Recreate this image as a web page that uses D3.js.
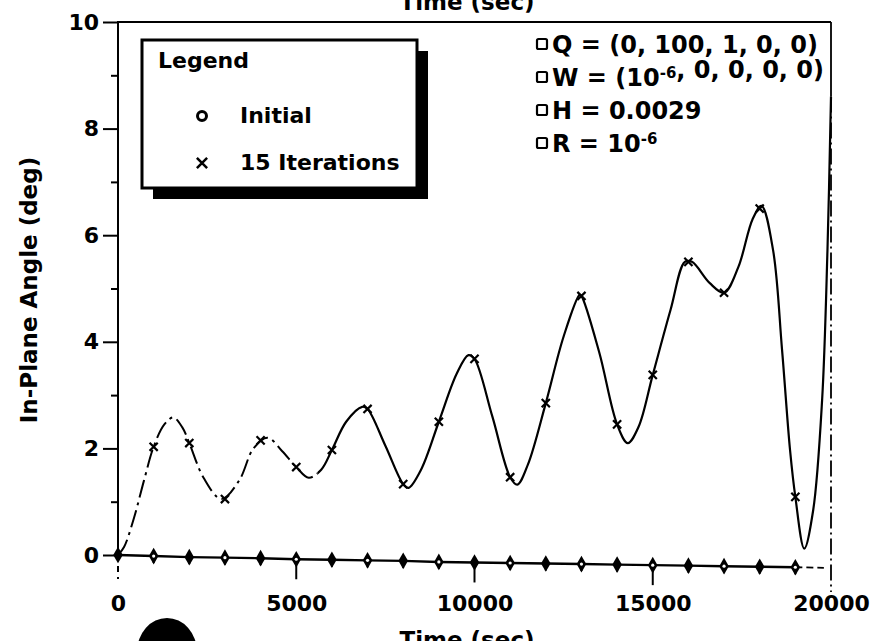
<!DOCTYPE html>
<html>
<head>
<meta charset="utf-8">
<script src="https://cdn.jsdelivr.net/npm/d3@7"></script>
<style>
  body { margin: 0; background: #fff; }
  svg { display: block; }
  text { font-family: "DejaVu Sans", sans-serif; fill: #000; }
</style>
</head>
<body>
<div id="chart"></div>
<script>
// "15 Iterations" curve (time in sec, angle in deg)
const iterTimes = [0, 170, 450, 730, 1000, 1300, 1550, 1800, 2000, 2400, 2900, 3400, 3800, 4200, 4600,
  5000, 5350, 5700, 6000, 6400, 6850, 7000, 7500, 8000, 8150, 8500, 9000, 9500, 9830, 10000,
  10500, 11000, 11200, 11500, 12000, 12500, 12950, 13000, 13500, 14000, 14300, 14600, 15000, 15500,
  15900, 16100, 16600, 17000, 17400, 17800, 18050, 18375, 18627, 18851, 19000, 19250, 19500, 19750, 19900, 20000];
const iterAngles = [0, 0.15, 0.7, 1.4, 2.03, 2.45, 2.58, 2.4, 2.1, 1.45, 1.05, 1.4, 2.0, 2.2, 1.95,
  1.65, 1.45, 1.6, 1.97, 2.5, 2.78, 2.74, 2.05, 1.33, 1.26, 1.6, 2.5, 3.4, 3.75, 3.68,
  2.6, 1.46, 1.32, 1.7, 2.85, 4.1, 4.88, 4.86, 3.8, 2.45, 2.1, 2.4, 3.38, 4.6,
  5.5, 5.5, 5.1, 4.92, 5.4, 6.3, 6.55, 5.72, 3.85, 1.97, 1.09, 0.12, 0.84, 2.9, 5.7, 8.6];

// x markers on the iterated curve
const markTimes = [1000, 2000, 3000, 4000, 5000, 6000, 7000, 8000, 9000, 10000,
  11000, 12000, 13000, 14000, 15000, 16000, 17000, 18000, 19000];
const markAngles = [2.03, 2.1, 1.05, 2.15, 1.65, 1.97, 2.74, 1.33, 2.5, 3.68,
  1.46, 2.85, 4.86, 2.45, 3.38, 5.5, 4.92, 6.5, 1.09];

// "Initial" series
const initTimes = [0, 1000, 2000, 3000, 4000, 5000, 6000, 7000, 8000, 9000,
  10000, 11000, 12000, 13000, 14000, 15000, 16000, 17000, 18000, 19000];
const initAngles = [0, -0.02, -0.04, -0.05, -0.06, -0.08, -0.09, -0.1, -0.11, -0.13,
  -0.14, -0.15, -0.16, -0.17, -0.18, -0.19, -0.2, -0.21, -0.22, -0.23];
const initTailTimes = [19000, 19800];
const initTailAngles = [-0.23, -0.24];

const yTicks = [0, 2, 4, 6, 8, 10];
const yMinor = [1, 3, 5, 7, 9];
const xTicks = [0, 5000, 10000, 15000, 20000];
const legendLabels = ['Initial', '15 Iterations'];
const notes = ['Q = (0, 100, 1, 0, 0)', 'W = (10^{-6}, 0, 0, 0, 0)', 'H = 0.0029', 'R = 10^{-6}'];
const xTitle = 'Time (sec)';
const yTitle = 'In-Plane Angle (deg)';

const width = 873, height = 641;
const x = d3.scaleLinear().domain([0, 20000]).range([118, 831]);
const y = d3.scaleLinear().domain([0, 10]).range([555, 22]);

const svg = d3.select('#chart').append('svg')
    .attr('width', width)
    .attr('height', height);

// frame
const frame = svg.append('g').attr('stroke', '#000').attr('fill', 'none');
frame.append('line')
    .attr('x1', x(0) - 1).attr('x2', x(20000)).attr('y1', y(10)).attr('y2', y(10))
    .attr('stroke-width', 2.2);
frame.append('line')
    .attr('x1', x(0)).attr('x2', x(0)).attr('y1', y(10)).attr('y2', y(0))
    .attr('stroke-width', 2);
frame.append('line')
    .attr('x1', x(0)).attr('x2', x(0)).attr('y1', y(0)).attr('y2', y(0) + 24)
    .attr('stroke-width', 2).attr('stroke-dasharray', '6,5');
frame.append('line')
    .attr('x1', x(20000)).attr('x2', x(20000)).attr('y1', y(10)).attr('y2', y(8.6))
    .attr('stroke-width', 1.8);
frame.append('line')
    .attr('x1', x(20000)).attr('x2', x(20000)).attr('y1', y(8.6)).attr('y2', y(0) + 37)
    .attr('stroke-width', 1.8).attr('stroke-dasharray', '16,4,2,4');

// axes
const styleAxis = g => {
  g.select('.domain').remove();
  g.selectAll('line').attr('stroke', '#000').attr('stroke-width', 2);
  g.selectAll('text')
      .style('font-size', '22px')
      .style('font-weight', 'bold')
      .attr('fill', '#000');
};
svg.append('g')
    .attr('transform', `translate(${x(0)},0)`)
    .call(d3.axisLeft(y).tickValues(yTicks).tickSize(15).tickPadding(4))
    .call(styleAxis);
svg.append('g')
    .attr('transform', `translate(${x(0)},0)`)
    .call(d3.axisLeft(y).tickValues(yMinor).tickSize(7).tickFormat(''))
    .call(styleAxis);
svg.append('g')
    .attr('transform', `translate(0,${y(0)})`)
    .call(d3.axisBottom(x).tickValues(xTicks).tickSize(0).tickPadding(40).tickFormat(d => d))
    .call(styleAxis);

// tick stems hanging under the initial line
svg.append('g')
    .attr('stroke', '#000').attr('stroke-width', 2)
  .selectAll('line')
  .data(initTimes.map((t, i) => [t, initAngles[i]]).filter(d => d[0] > 0))
  .join('line')
    .attr('x1', d => x(d[0])).attr('x2', d => x(d[0]))
    .attr('y1', d => y(d[1]))
    .attr('y2', d => y(d[1]) + (d[0] % 5000 === 0 ? 20 : 7));

// iterated curve: faded dash-dot print on the early part, solid after
const line = d3.line().x(d => x(d[0])).y(d => y(d[1])).curve(d3.curveCatmullRom.alpha(0.5));
const iterData = iterTimes.map((t, i) => [t, iterAngles[i]]);
const defs = svg.append('defs');
defs.append('clipPath').attr('id', 'clipEarly').append('rect')
    .attr('x', 0).attr('y', 0).attr('width', x(5600)).attr('height', height);
defs.append('clipPath').attr('id', 'clipLate').append('rect')
    .attr('x', x(5600)).attr('y', 0).attr('width', width - x(5600)).attr('height', height);
svg.append('path')
    .datum(iterData)
    .attr('clip-path', 'url(#clipEarly)')
    .attr('fill', 'none').attr('stroke', '#000').attr('stroke-width', 2)
    .attr('stroke-dasharray', '18,5,3,5')
    .attr('d', line);
svg.append('path')
    .datum(iterData)
    .attr('clip-path', 'url(#clipLate)')
    .attr('fill', 'none').attr('stroke', '#000').attr('stroke-width', 2.2)
    .attr('d', line);

svg.append('g')
    .attr('fill', 'none').attr('stroke', '#000').attr('stroke-width', 2.2)
  .selectAll('path')
  .data(markTimes.map((t, i) => [t, markAngles[i]]))
  .join('path')
    .attr('transform', d => `translate(${x(d[0])},${y(d[1])})`)
    .attr('d', d3.symbol(d3.symbolX, 45));

// initial series
const initLine = d3.line().x(d => x(d[0])).y(d => y(d[1]));
svg.append('path')
    .datum(initTimes.map((t, i) => [t, initAngles[i]]))
    .attr('fill', 'none').attr('stroke', '#000').attr('stroke-width', 2.4)
    .attr('d', initLine);
svg.append('path')
    .datum(initTailTimes.map((t, i) => [t, initTailAngles[i]]))
    .attr('fill', 'none').attr('stroke', '#000').attr('stroke-width', 1.8)
    .attr('stroke-dasharray', '7,4')
    .attr('d', initLine);
const initMarks = svg.append('g')
  .selectAll('g')
  .data(initTimes.map((t, i) => [t, initAngles[i]]))
  .join('g')
    .attr('transform', d => `translate(${x(d[0])},${y(d[1])})`);
initMarks.append('path')
    .attr('d', d3.symbol(d3.symbolDiamond, 80))
    .attr('fill', '#000');
initMarks.filter((d, i) => i % 2 === 1).append('circle')
    .attr('r', 1.6).attr('fill', '#fff');

// legend box with drop shadow
const lg = svg.append('g').attr('transform', 'translate(142,40)');
lg.append('rect').attr('x', 11).attr('y', 11).attr('width', 275).attr('height', 148).attr('fill', '#000');
lg.append('rect').attr('width', 275).attr('height', 148)
    .attr('fill', '#fff').attr('stroke', '#000').attr('stroke-width', 3);
lg.append('text').attr('x', 16).attr('y', 28)
    .style('font-size', '22px').style('font-weight', 'bold').text('Legend');
lg.append('circle').attr('cx', 60).attr('cy', 76).attr('r', 4.5)
    .attr('fill', 'none').attr('stroke', '#000').attr('stroke-width', 3);
lg.append('path').attr('transform', 'translate(60,123)')
    .attr('d', d3.symbol(d3.symbolX, 70)).attr('fill', 'none')
    .attr('stroke', '#000').attr('stroke-width', 2.5);
lg.selectAll('text.item')
  .data(legendLabels)
  .join('text')
    .attr('class', 'item')
    .attr('x', 98)
    .attr('y', (d, i) => 83 + i * 47)
    .style('font-size', '22px').style('font-weight', 'bold')
    .text(d => d);

// parameter notes, top right
const ng = svg.append('g');
notes.forEach((s, i) => {
  const by = 53 + i * 33;
  ng.append('rect').attr('x', 537).attr('y', by - 14).attr('width', 10).attr('height', 10)
      .attr('rx', 1.5).attr('fill', 'none').attr('stroke', '#000').attr('stroke-width', 2.2);
  const t = ng.append('text').attr('x', 552).attr('y', by)
      .style('font-size', '24px').style('font-weight', 'bold');
  s.split(/(\^\{[^}]*\})/).forEach(part => {
    if (!part) return;
    if (part.startsWith('^{')) {
      t.append('tspan').attr('dy', -8).style('font-size', '15px').text(part.slice(2, -1));
      t.append('tspan').attr('dy', 8).text('');
    } else {
      t.append('tspan').text(part);
    }
  });
});

// titles
svg.append('text').attr('x', 467).attr('y', 10).attr('text-anchor', 'middle')
    .style('font-size', '23px').style('font-weight', 'bold').text(xTitle);
svg.append('text').attr('x', 467).attr('y', 648).attr('text-anchor', 'middle')
    .style('font-size', '23px').style('font-weight', 'bold').text(xTitle);
svg.append('text')
    .attr('transform', 'translate(37,290) rotate(-90)')
    .attr('text-anchor', 'middle')
    .style('font-size', '23px').style('font-weight', 'bold')
    .text(yTitle);

// scanner blot at the bottom
svg.append('ellipse').attr('cx', 167).attr('cy', 652).attr('rx', 30).attr('ry', 34).attr('fill', '#000');
</script>
</body>
</html>
